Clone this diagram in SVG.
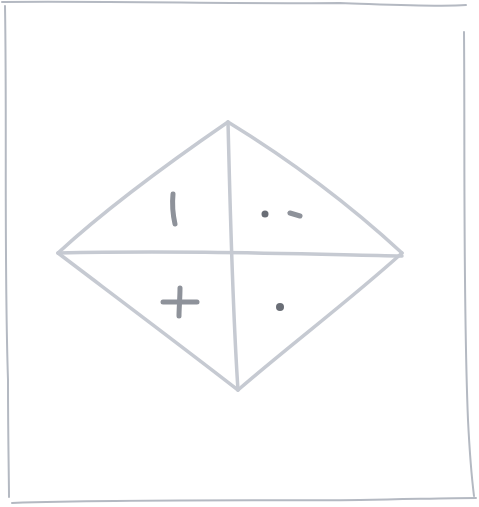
<svg xmlns="http://www.w3.org/2000/svg" width="479" height="507" viewBox="0 0 479 507">
<style>
.frame{fill:none;stroke:#b4b9c2;stroke-width:2;stroke-linecap:round;stroke-linejoin:round}
.pen{fill:none;stroke:#c6cad2;stroke-width:3.5;stroke-linecap:round;stroke-linejoin:round}
.mark{fill:none;stroke:#8e929a;stroke-width:5;stroke-linecap:round}
.dot{fill:#6a6e76}
</style>
<rect width="479" height="507" fill="#ffffff"/>
<g id="frame">
<path class="frame" d="M2,2 C120,1 240,4 340,3 C400,5 440,7 466,5" stroke="#a8adb6"/>
<path class="frame" d="M5,6 C7,120 4,260 8,380 C8,440 9,480 9,497"/>
<path class="frame" d="M464,32 C465,150 463,300 468,420 C470,460 472,480 474,496"/>
<path class="frame" d="M12,503 C140,499 260,501 360,500 C420,499 450,498 476,498" stroke="#7c828c"/>
</g>
<g id="diamond">
<path class="pen" d="M228,122 C180,155 110,205 58,253"/>
<path class="pen" d="M228,122 C290,160 350,205 402,253" stroke="#b4b8c0"/>
<path class="pen" d="M58,253 C120,300 180,345 238,390"/>
<path class="pen" d="M402,253 C350,300 290,345 238,390"/>
</g>
<g id="connectors">
<path class="pen" d="M58,253 C180,250 300,254 402,256"/>
<path class="pen" d="M228,122 C230,200 232,300 238,390"/>
</g>
<g id="marks">
<g id="q1"><path class="mark" d="M173,194 C172,204 173,215 175,224"/></g>
<g id="q2"><circle class="dot" cx="265" cy="214" r="3.5"/><path class="mark" d="M290,213 L300,216" stroke-width="6"/></g>
<g id="q3"><path class="mark" d="M163,302 L197,302"/><path class="mark" d="M180,288 C180,298 179,308 179,316"/></g>
<g id="q4"><circle class="dot" cx="280" cy="307" r="4"/></g>
</g>
</svg>
